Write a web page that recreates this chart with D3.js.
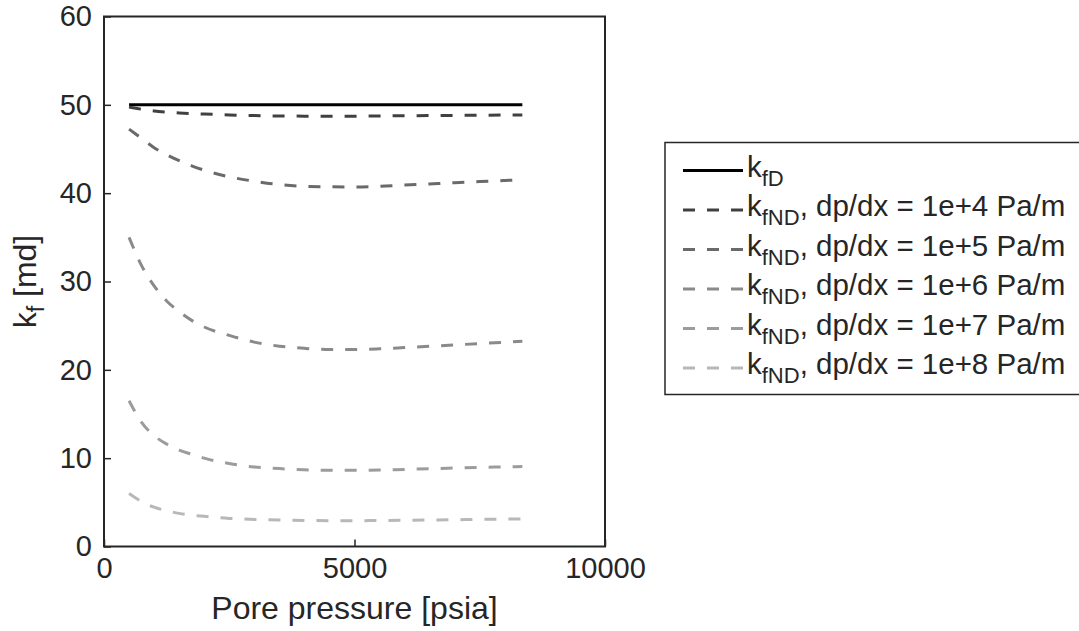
<!DOCTYPE html>
<html>
<head>
<meta charset="utf-8">
<script src="https://cdn.jsdelivr.net/npm/d3@7"></script>
<style>
  html, body { margin: 0; padding: 0; background: #fff; }
  svg { display: block; }
  text { font-family: "Liberation Sans", Arial, Helvetica, sans-serif; fill: #262626; }
</style>
</head>
<body>
<svg id="chart" width="1079" height="631"></svg>
<script>
// Pore pressure samples [psia]
const pressure = [500, 750, 1000, 1250, 1500, 1750, 2000, 2500, 3000, 3500, 4000, 4500, 5000, 5500, 6000, 6500, 7000, 7500, 8000, 8350];

// Fracture permeability [md]
const kfD    = [50, 50, 50, 50, 50, 50, 50, 50, 50, 50, 50, 50, 50, 50, 50, 50, 50, 50, 50, 50];
const kfND_1e4 = [49.75, 49.5, 49.3, 49.17, 49.08, 49.01, 48.96, 48.86, 48.78, 48.74, 48.72, 48.72, 48.72, 48.74, 48.76, 48.78, 48.8, 48.82, 48.84, 48.86];
const kfND_1e5 = [47.25, 46.2, 45.15, 44.35, 43.68, 43.1, 42.6, 41.85, 41.35, 40.97, 40.77, 40.72, 40.7, 40.77, 40.92, 41.05, 41.18, 41.32, 41.44, 41.52];
const kfND_1e6 = [35.0, 31.8, 29.5, 27.8, 26.6, 25.6, 24.85, 23.9, 23.14, 22.68, 22.43, 22.3, 22.3, 22.38, 22.52, 22.67, 22.82, 22.97, 23.12, 23.23];
const kfND_1e7 = [16.5, 14.05, 12.55, 11.6, 10.9, 10.45, 10.0, 9.4, 9.0, 8.82, 8.68, 8.62, 8.62, 8.65, 8.73, 8.8, 8.88, 8.96, 9.01, 9.05];
const kfND_1e8 = [6.0, 5.1, 4.45, 4.05, 3.75, 3.55, 3.42, 3.18, 3.07, 3.0, 2.95, 2.92, 2.92, 2.95, 2.97, 3.0, 3.03, 3.07, 3.1, 3.12];

// Legend entries: main symbol, subscript, remainder
const legendLabels = [
  ["k", "fD", ""],
  ["k", "fND", ", dp/dx = 1e+4 Pa/m"],
  ["k", "fND", ", dp/dx = 1e+5 Pa/m"],
  ["k", "fND", ", dp/dx = 1e+6 Pa/m"],
  ["k", "fND", ", dp/dx = 1e+7 Pa/m"],
  ["k", "fND", ", dp/dx = 1e+8 Pa/m"]
];

const xTicks = [0, 5000, 10000];
const yTicks = [0, 10, 20, 30, 40, 50, 60];

const series = [kfD, kfND_1e4, kfND_1e5, kfND_1e6, kfND_1e7, kfND_1e8];
const colors = ["#000000", "#404040", "#6a6a6a", "#8a8a8a", "#9c9c9c", "#b8b8b8"];
const dashes = [null, "12,12", "12,12", "12,12", "12,12", "12,12"];

const svg = d3.select("#chart");
const axisColor = "#262626";

const plot = { left: 104, right: 605, top: 16.5, bottom: 546.5 };
const x = d3.scaleLinear().domain([0, 10000]).range([plot.left, plot.right]);
const y = d3.scaleLinear().domain([0, 60]).range([plot.bottom, plot.top]);

// Data lines
const line = d3.line()
  .x((d, i) => x(pressure[i]))
  .y(d => y(d))
  .curve(d3.curveMonotoneX);

series.forEach((s, i) => {
  svg.append("path")
    .datum(s)
    .attr("d", line)
    .attr("fill", "none")
    .attr("stroke", colors[i])
    .attr("stroke-width", 3)
    .attr("stroke-dasharray", dashes[i]);
});

// Axes with inward ticks
const xAxis = d3.axisBottom(x).tickValues(xTicks).tickSizeInner(-7).tickSizeOuter(0).tickPadding(10).tickFormat(d3.format("d"));
const yAxis = d3.axisLeft(y).tickValues(yTicks).tickSizeInner(-7).tickSizeOuter(0).tickPadding(12).tickFormat(d3.format("d"));

const gx = svg.append("g").attr("transform", `translate(0,${plot.bottom})`).call(xAxis);
const gy = svg.append("g").attr("transform", `translate(${plot.left},0)`).call(yAxis);

[gx, gy].forEach(g => {
  g.select(".domain").remove();
  g.selectAll(".tick line").attr("stroke", axisColor).attr("stroke-width", 1.5);
  g.selectAll(".tick text")
    .attr("fill", axisColor)
    .style("font-size", "29px")
    .style("font-family", "'Liberation Sans', Arial, sans-serif");
});
gx.selectAll(".tick text").attr("dy", "0.75em");

// Box around the axes
svg.append("rect")
  .attr("x", plot.left).attr("y", plot.top)
  .attr("width", plot.right - plot.left).attr("height", plot.bottom - plot.top)
  .attr("fill", "none").attr("stroke", axisColor).attr("stroke-width", 2);

// Axis labels
svg.append("text")
  .attr("x", (plot.left + plot.right) / 2)
  .attr("y", 619)
  .attr("text-anchor", "middle")
  .style("font-size", "32px")
  .text("Pore pressure [psia]");

const yl = svg.append("text")
  .attr("transform", `translate(36,${(plot.top + plot.bottom) / 2}) rotate(-90)`)
  .attr("text-anchor", "middle")
  .style("font-size", "32px");
yl.append("tspan").text("k");
yl.append("tspan").attr("dy", 8).style("font-size", "23px").text("f");
yl.append("tspan").attr("dy", -8).text(" [md]");

// Legend
const leg = { x: 665, y: 142.5, w: 430, h: 252, rowH: 39.5, first: 170.5 };
svg.append("rect")
  .attr("x", leg.x).attr("y", leg.y)
  .attr("width", leg.w).attr("height", leg.h)
  .attr("fill", "#fff").attr("stroke", axisColor).attr("stroke-width", 1.5);

legendLabels.forEach((lab, i) => {
  const cy = leg.first + i * leg.rowH;
  svg.append("line")
    .attr("x1", 683).attr("x2", 743)
    .attr("y1", cy).attr("y2", cy)
    .attr("stroke", colors[i])
    .attr("stroke-width", 3)
    .attr("stroke-dasharray", dashes[i] ? "12,12" : null);
  const t = svg.append("text")
    .attr("x", 747)
    .attr("y", cy + 6)
    .style("font-size", "29.5px");
  t.append("tspan").text(lab[0]);
  t.append("tspan").attr("dy", 9).style("font-size", "22px").text(lab[1]);
  if (lab[2]) t.append("tspan").attr("dy", -9).text(lab[2]);
});
</script>
</body>
</html>
